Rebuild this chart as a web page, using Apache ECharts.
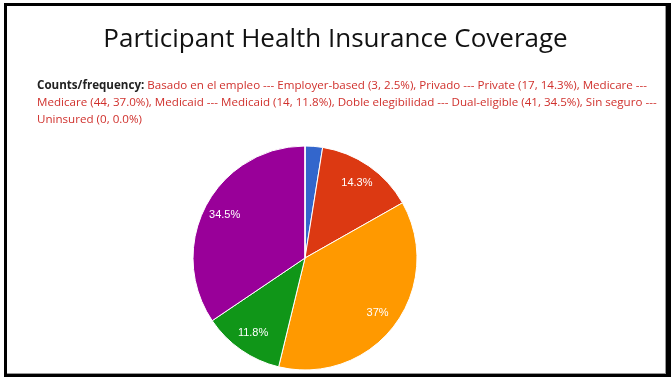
<!DOCTYPE html>
<html><head><meta charset="utf-8">
<script src="https://cdn.jsdelivr.net/npm/echarts@6/dist/echarts.min.js"></script>
<style>html,body{margin:0;padding:0;background:#fff}#c{width:671px;height:377px}</style>
</head><body><div id="c"></div>
<script>
var titleText = 'Participant Health Insurance Coverage';
var prefix = 'Counts/frequency:';
var categories = ['Basado en el empleo --- Employer-based', 'Privado --- Private', 'Medicare --- Medicare', 'Medicaid --- Medicaid', 'Doble elegibilidad --- Dual-eligible', 'Sin seguro --- Uninsured'];
var counts = [3, 17, 44, 14, 41, 0];
var freqText = ['2.5%', '14.3%', '37.0%', '11.8%', '34.5%', '0.0%'];
var colors = ['#3366cc', '#dc3912', '#ff9900', '#109618', '#990099', '#0099c6'];

var fs = 11.6;
var textFont = fs + 'px "Open Sans"';
var boldFont = 'bold ' + fs + 'px "Open Sans"';
var wrapWidth = 625;

var items = categories.map(function (c, i) { return c + ' (' + counts[i] + ', ' + freqText[i] + ')'; });
var body = items.join(', ');
var cv = document.createElement('canvas').getContext('2d');
function w(s, f) { cv.font = f; return cv.measureText(s).width; }
var words = body.split(' ');
var lines = [];
var cur = '';
var prefW = w(prefix + ' ', boldFont);
words.forEach(function (wd) {
  var test = cur ? cur + ' ' + wd : wd;
  var tw = w(test, textFont) + (lines.length === 0 ? prefW : 0);
  if (tw > wrapWidth && cur) { lines.push(cur); cur = wd; } else { cur = test; }
});
if (cur) lines.push(cur);
var rich = lines.map(function (l, i) { return (i === 0 ? '{b|' + prefix + ' }' : '') + '{r|' + l + '}'; }).join('\n');

var total = counts.reduce(function (a, b) { return a + b; }, 0);
var data = categories.map(function (c, i) { return { name: c, value: counts[i], itemStyle: { color: colors[i] } }; });

var chart = echarts.init(document.getElementById('c'));
chart.setOption({
  animation: false,
  title: [
    { text: titleText, left: 'center', top: 22, textStyle: { fontFamily: 'Open Sans', fontSize: 26, fontWeight: 'normal', color: '#111' } },
    { text: rich, left: 32, top: 72, textStyle: { fontWeight: 'normal', fontFamily: 'Open Sans', fontSize: fs, rich: {
      b: { fontFamily: 'Open Sans', fontSize: fs, fontWeight: 'bold', color: '#222', lineHeight: 17 },
      r: { fontFamily: 'Open Sans', fontSize: fs, fontWeight: 'normal', color: '#d0312d', lineHeight: 17 }
    } } }
  ],
  graphic: [
    { type: 'rect', shape: { x: 4, y: 3, width: 3, height: 374 }, style: { fill: '#000' }, z: 100 },
    { type: 'rect', shape: { x: 4, y: 3, width: 667, height: 3 }, style: { fill: '#000' }, z: 100 },
    { type: 'rect', shape: { x: 666, y: 3, width: 5, height: 374 }, style: { fill: '#000' }, z: 100 },
    { type: 'rect', shape: { x: 4, y: 374, width: 667, height: 3 }, style: { fill: '#000' }, z: 100 },
    { type: 'rect', shape: { x: 665, y: 6, width: 1, height: 368 }, style: { fill: '#999' }, z: 100 },
    { type: 'rect', shape: { x: 7, y: 373, width: 659, height: 1 }, style: { fill: '#999' }, z: 100 }
  ],
  series: [
    { type: 'pie', center: [305, 258], radius: [0, 112], startAngle: 90, clockwise: true, data: data,
      label: { show: false }, labelLine: { show: false }, silent: true,
      itemStyle: { borderColor: '#fff', borderWidth: 1 } },
    { type: 'pie', center: [305, 258], radius: [64, 112], startAngle: 90, clockwise: true, silent: true, z: 5,
      data: categories.map(function (c, i) { return { name: c, value: counts[i] }; }),
      itemStyle: { color: 'rgba(0,0,0,0)', borderWidth: 0 },
      labelLine: { show: false },
      label: { show: true, position: 'inside', color: '#fff', fontFamily: 'Liberation Sans', fontSize: 11,
        formatter: function (p) {
          var pct = p.value / total * 100;
          return pct < 5 ? '' : parseFloat(pct.toFixed(1)) + '%';
        } } }
  ]
});
</script></body></html>
